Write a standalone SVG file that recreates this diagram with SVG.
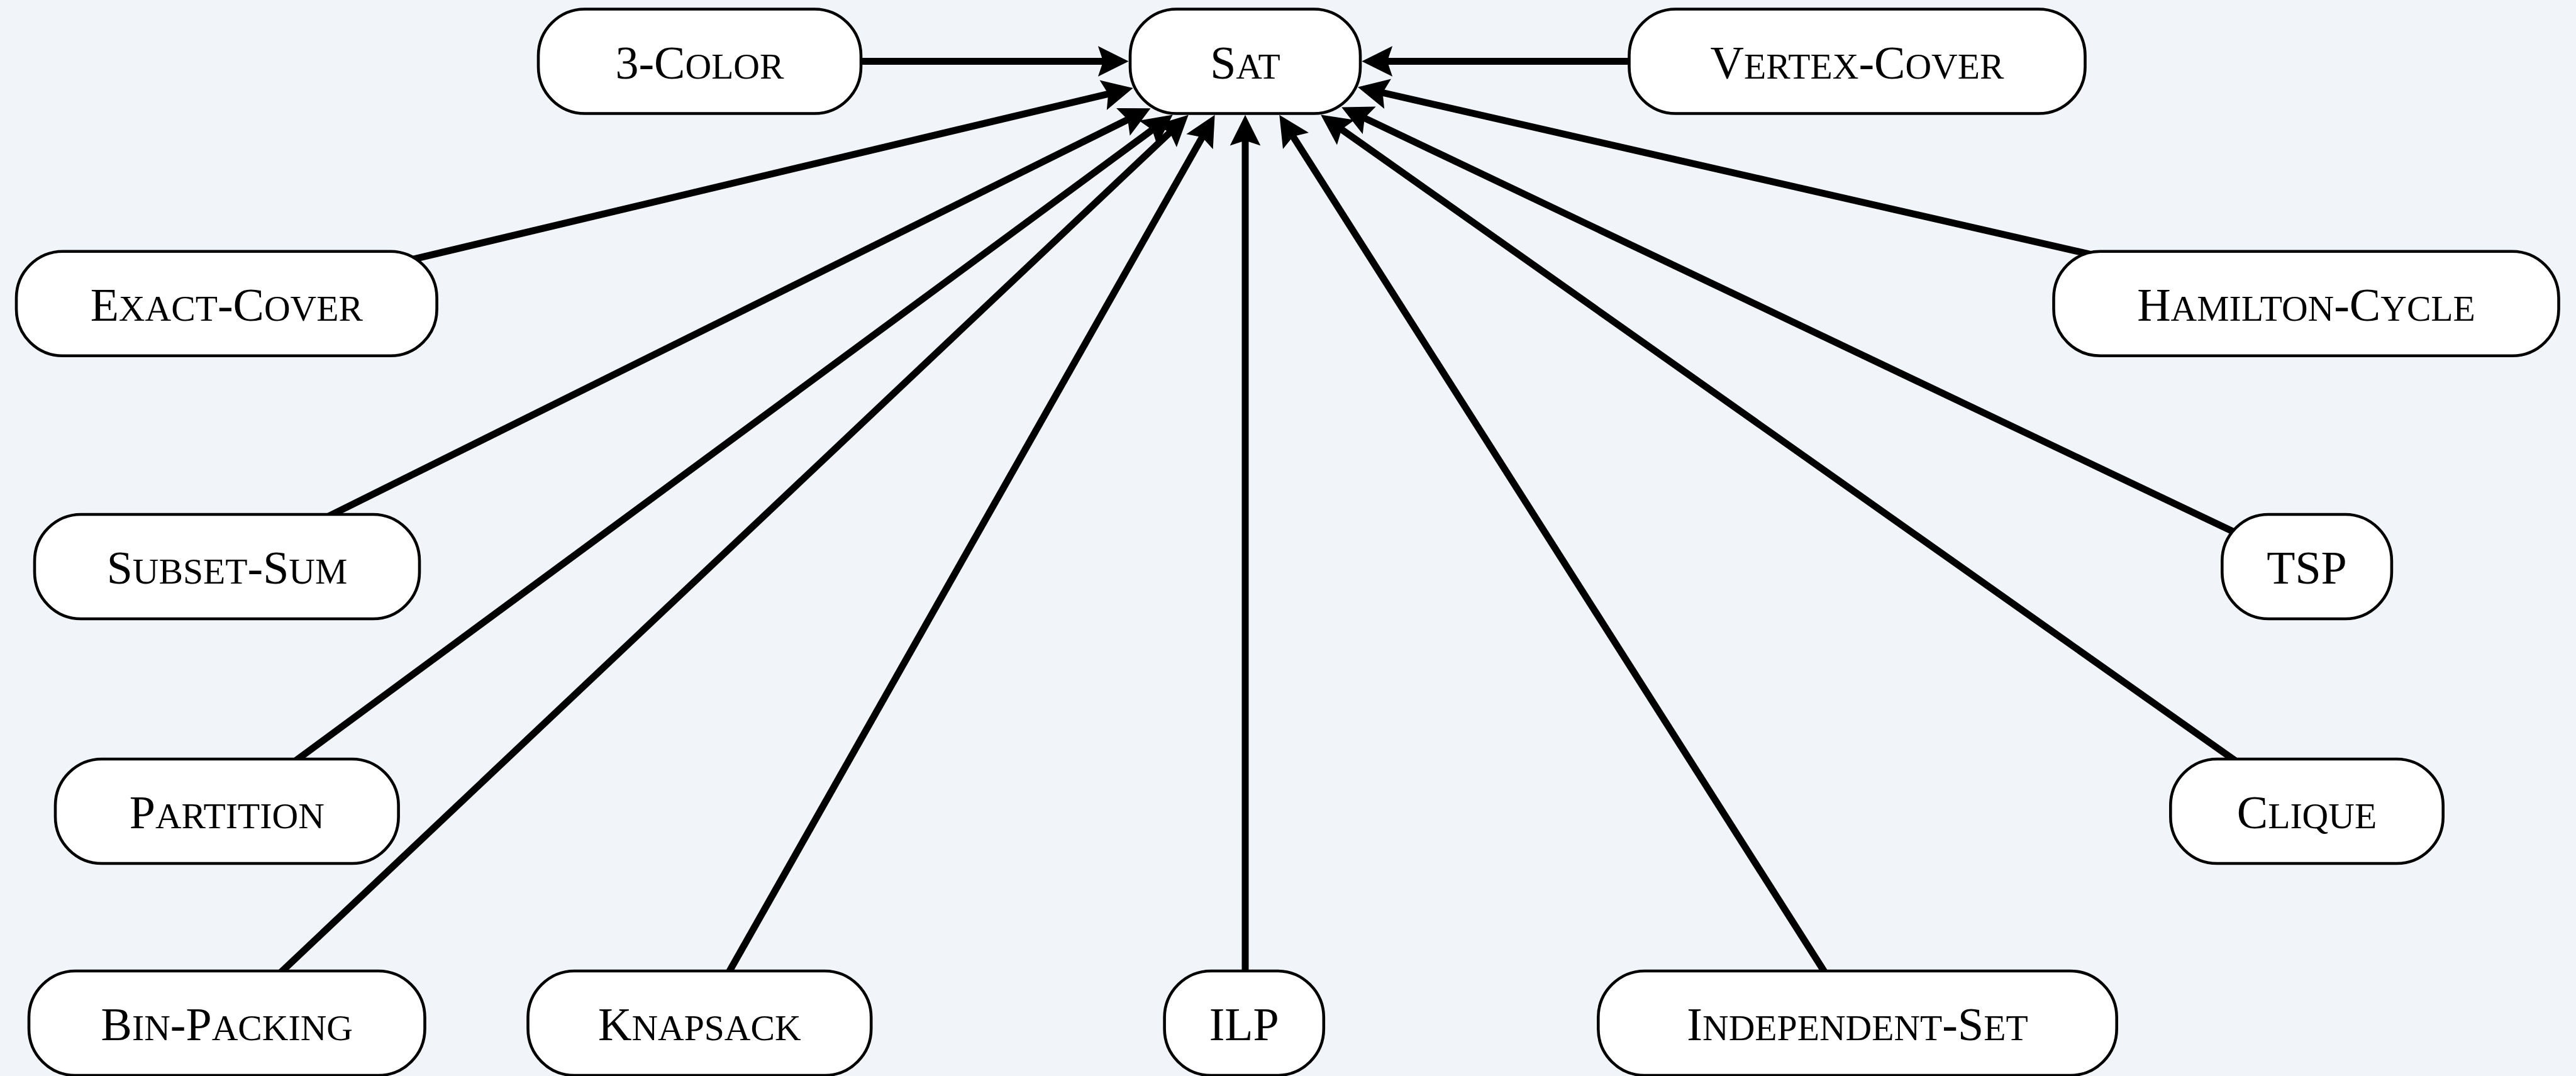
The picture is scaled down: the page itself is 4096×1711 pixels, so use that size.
<svg xmlns="http://www.w3.org/2000/svg" width="4096" height="1711" viewBox="0 0 4096 1711">
  <style>
    .node rect { fill: #ffffff; stroke: #000000; stroke-width: 4.6; }
    .node text { font-family: "Liberation Serif", "Times New Roman", serif; font-size: 74px; fill: #000000; text-anchor: middle; }
    .sc { font-size: 57.7px; }
    .edge { stroke: #000000; stroke-width: 11; fill: none; marker-end: url(#arrow); }
  </style>
  <defs>
    <marker id="arrow" viewBox="0 -26 50 52" markerWidth="50" markerHeight="52" refX="34.8" refY="0" orient="auto" markerUnits="userSpaceOnUse" overflow="visible">
      <path d="M0,-24.3 L48.8,0 L0,24.3 L8.2,0 Z" fill="#000000"/>
    </marker>
  </defs>

  <rect x="0" y="0" width="4096" height="1711" fill="#f1f5f9"/>

  <!-- reductions: every problem points at SAT -->
  <g id="connectors">
    <line class="edge" x1="1112.5" y1="97.5" x2="1780.7" y2="97.5"/>
    <line class="edge" x1="2953" y1="97.5" x2="2179.3" y2="97.5"/>
    <line class="edge" x1="360.3" y1="482.8" x2="1788" y2="143.2"/>
    <line class="edge" x1="3667" y1="482.8" x2="2172.6" y2="141.5"/>
    <line class="edge" x1="361" y1="901" x2="1817" y2="178.4"/>
    <line class="edge" x1="3668" y1="901" x2="2145.8" y2="176.4"/>
    <line class="edge" x1="361" y1="1290" x2="1853.5" y2="190.8"/>
    <line class="edge" x1="3668" y1="1290" x2="2111.5" y2="190.5"/>
    <line class="edge" x1="361" y1="1627" x2="1879.5" y2="192.4"/>
    <line class="edge" x1="1113" y1="1627" x2="1924.7" y2="195"/>
    <line class="edge" x1="1980" y1="1627" x2="1980" y2="196.8"/>
    <line class="edge" x1="2953" y1="1627" x2="2041.8" y2="194.6"/>
  </g>

  <g id="node-3color" class="node">
    <rect x="856" y="14.5" width="513" height="166" rx="74" ry="74"/>
    <text x="1112.5" y="124.5">3-C<tspan class="sc">OLOR</tspan></text>
  </g>
  <g id="node-sat" class="node">
    <rect x="1797" y="14.5" width="366" height="166" rx="74" ry="74"/>
    <text x="1980" y="124.5">S<tspan class="sc">AT</tspan></text>
  </g>
  <g id="node-vertex-cover" class="node">
    <rect x="2590.5" y="14.5" width="725" height="166" rx="74" ry="74"/>
    <text x="2953" y="124.5">V<tspan class="sc">ERTEX</tspan>-C<tspan class="sc">OVER</tspan></text>
  </g>
  <g id="node-exact-cover" class="node">
    <rect x="26" y="399.8" width="668.6" height="166" rx="74" ry="74"/>
    <text x="360.3" y="509.8">E<tspan class="sc">XACT</tspan>-C<tspan class="sc">OVER</tspan></text>
  </g>
  <g id="node-hamilton-cycle" class="node">
    <rect x="3265.5" y="399.8" width="803" height="166" rx="74" ry="74"/>
    <text x="3667" y="509.8">H<tspan class="sc">AMILTON</tspan>-C<tspan class="sc">YCLE</tspan></text>
  </g>
  <g id="node-subset-sum" class="node">
    <rect x="55" y="818" width="612" height="166" rx="74" ry="74"/>
    <text x="361" y="928">S<tspan class="sc">UBSET</tspan>-S<tspan class="sc">UM</tspan></text>
  </g>
  <g id="node-tsp" class="node">
    <rect x="3533.3" y="818" width="269.6" height="166" rx="74" ry="74"/>
    <text x="3668" y="928">TSP</text>
  </g>
  <g id="node-partition" class="node">
    <rect x="88" y="1207" width="545.6" height="166" rx="74" ry="74"/>
    <text x="360.8" y="1317">P<tspan class="sc">ARTITION</tspan></text>
  </g>
  <g id="node-clique" class="node">
    <rect x="3451.3" y="1207" width="433.4" height="166" rx="74" ry="74"/>
    <text x="3668" y="1317">C<tspan class="sc">LIQUE</tspan></text>
  </g>
  <g id="node-bin-packing" class="node">
    <rect x="46" y="1544" width="629.5" height="166" rx="74" ry="74"/>
    <text x="360.8" y="1654">B<tspan class="sc">IN</tspan>-P<tspan class="sc">ACKING</tspan></text>
  </g>
  <g id="node-knapsack" class="node">
    <rect x="839.5" y="1544" width="545.7" height="166" rx="74" ry="74"/>
    <text x="1112.3" y="1654">K<tspan class="sc">NAPSACK</tspan></text>
  </g>
  <g id="node-ilp" class="node">
    <rect x="1851.6" y="1544" width="253.2" height="166" rx="74" ry="74"/>
    <text x="1978.2" y="1654">ILP</text>
  </g>
  <g id="node-independent-set" class="node">
    <rect x="2541.3" y="1544" width="824.4" height="166" rx="74" ry="74"/>
    <text x="2953.5" y="1654">I<tspan class="sc">NDEPENDENT</tspan>-S<tspan class="sc">ET</tspan></text>
  </g>
</svg>
